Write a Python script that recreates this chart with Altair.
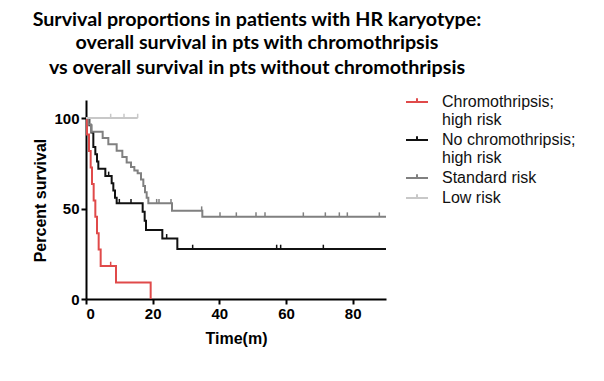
import altair as alt
import pandas as pd

# ---------------- data ----------------
series_names = [
    "Chromothripsis; high risk",
    "No chromothripsis; high risk",
    "Standard risk",
    "Low risk",
]
series_colors = ["#e04a4a", "#111111", "#808080", "#c8c8c8"]

# Kaplan-Meier step curves: time (months) and percent survival after each step
red_t = [0, 0.3, 0.9, 1.4, 1.8, 2.3, 2.8, 3.3, 3.8, 4.4, 9.0, 19.4]
red_s = [100, 90.9, 81.8, 72.7, 63.6, 54.5, 45.5, 36.4, 27.3, 18.2, 9.1, 0]

black_t = [0, 1.0, 1.6, 2.2, 2.8, 3.3, 3.7, 5.8, 7.7, 8.2, 8.7, 9.2,
           17.0, 17.6, 18.0, 22.9, 27.4, 90]
black_s = [100, 96, 92, 84, 80, 76, 72, 68, 64, 60, 56, 52.9,
           48.2, 43.2, 38.1, 33.5, 27.6, 27.6]

gray_t = [0, 0.8, 1.5, 5.0, 6.7, 9.2, 10.9, 12.2, 13.5, 14.5, 15.5, 16.5,
          17.2, 17.7, 18.2, 18.7, 25.8, 34.9, 90]
gray_s = [100, 96.5, 92.5, 89, 85.5, 82, 78.5, 75.5, 73, 71, 69.5, 66,
          62.5, 59, 56, 52.9, 48.8, 45.5, 45.5]

low_t = [0, 15.5]
low_s = [100, 100]

# censored observations (tick marks)
red_ct = [7.4]
red_cs = [18.2]
black_ct = [6.8, 10.0, 13.5, 24.2, 32.0, 57.2, 58.4, 71.2]
black_cs = [68, 52.9, 52.9, 33.5, 27.6, 27.6, 27.6, 27.6]
gray_ct = [21.2, 21.9, 25.5, 34.7, 40.2, 45.1, 51.0, 53.7, 65.2, 71.8, 76.0, 78.4, 88.0]
gray_cs = [52.9, 52.9, 52.9, 48.8, 45.5, 45.5, 45.5, 45.5, 45.5, 45.5, 45.5, 45.5, 45.5]
low_ct = [7.4, 11.4, 15.5]
low_cs = [100, 100, 100]

title_line = "Survival proportions in patients with HR karyotype:"
subtitle_lines = [
    "overall survival in pts with chromothripsis",
    "vs overall survival in pts without chromothripsis",
]
x_ticks = [0, 20, 40, 60, 80]
y_ticks = [0, 50, 100]

# ---------------- tables ----------------
curves = []
for name, t, s in zip(series_names, [red_t, black_t, gray_t, low_t],
                      [red_s, black_s, gray_s, low_s]):
    for ti, si in zip(t, s):
        curves.append({"group": name, "t": ti, "s": si})
curve_df = pd.DataFrame(curves)

cens = []
for name, t, s in zip(series_names, [red_ct, black_ct, gray_ct, low_ct],
                      [red_cs, black_cs, gray_cs, low_cs]):
    for ti, si in zip(t, s):
        cens.append({"group": name, "t": ti, "s": si})
cens_df = pd.DataFrame(cens)

xscale = alt.Scale(domain=[0, 90], nice=False, zero=False)
yscale = alt.Scale(domain=[0, 110], nice=False)

color = alt.Color(
    "group:N",
    scale=alt.Scale(domain=series_names, range=series_colors),
    legend=alt.Legend(
        title=None,
        orient="none",
        legendX=319,
        legendY=-10,
        symbolType="M-1,0H1M0,0V-0.35",
        symbolSize=484,
        symbolStrokeWidth=2,
        labelFont="Liberation Sans",
        labelFontSize=16,
        labelColor="#111111",
        labelOffset=13,
        rowPadding=0,
        labelLimit=200,
        labelExpr="split(replace(datum.label, '; ', ';|'), '|')",
    ),
)

xaxis = alt.Axis(
    values=x_ticks, title="Time(m)", grid=False,
    titleX=150, titleY=39, titleBaseline="middle",
)
yaxis = alt.Axis(
    values=y_ticks, title="Percent survival", grid=False,
    titleX=-46, titleY=100, titleBaseline="middle", titleAlign="center", titleAngle=270,
)

lines = alt.Chart(curve_df).mark_line(interpolate="step-after", strokeWidth=2).encode(
    x=alt.X("t:Q", scale=xscale, axis=xaxis),
    y=alt.Y("s:Q", scale=yscale, axis=yaxis),
    color=color,
    order=alt.Order("t:Q"),
)

ticks = alt.Chart(cens_df).transform_calculate(top="datum.s + 2.4").mark_rule(
    strokeWidth=1.5
).encode(
    x=alt.X("t:Q", scale=xscale),
    y=alt.Y("s:Q", scale=yscale),
    y2="top:Q",
    color=alt.Color("group:N", scale=alt.Scale(domain=series_names, range=series_colors), legend=None),
)

chart = alt.layer(lines, ticks).properties(
    width=300,
    height=199,
    autosize=alt.AutoSizeParams(type="none"),
    padding={"left": 78, "top": 92, "right": 210, "bottom": 74},
    title=alt.TitleParams(
        text=title_line,
        subtitle=subtitle_lines,
        font="Lato",
        fontSize=19.7,
        fontWeight="bold",
        color="#000000",
        subtitleFont="Lato",
        subtitleFontSize=19.7,
        subtitleFontWeight="bold",
        subtitleColor="#000000",
        subtitleLineHeight=25,
        subtitlePadding=4,
        anchor="middle",
        frame="group",
        dx=21,
        offset=12,
    ),
).configure_view(stroke=None).configure_axis(
    domainColor="#000000",
    domainWidth=2,
    tickColor="#000000",
    tickWidth=2,
    tickSize=5,
    labelFont="Liberation Sans",
    labelFontSize=15,
    labelFontWeight="bold",
    labelColor="#000000",
    labelPadding=2,
    titleFont="Liberation Sans",
    titleFontSize=16,
    titleFontWeight="bold",
    titleColor="#000000",
)

chart.save("out.html", embed_options={"renderer": "svg", "actions": False})
